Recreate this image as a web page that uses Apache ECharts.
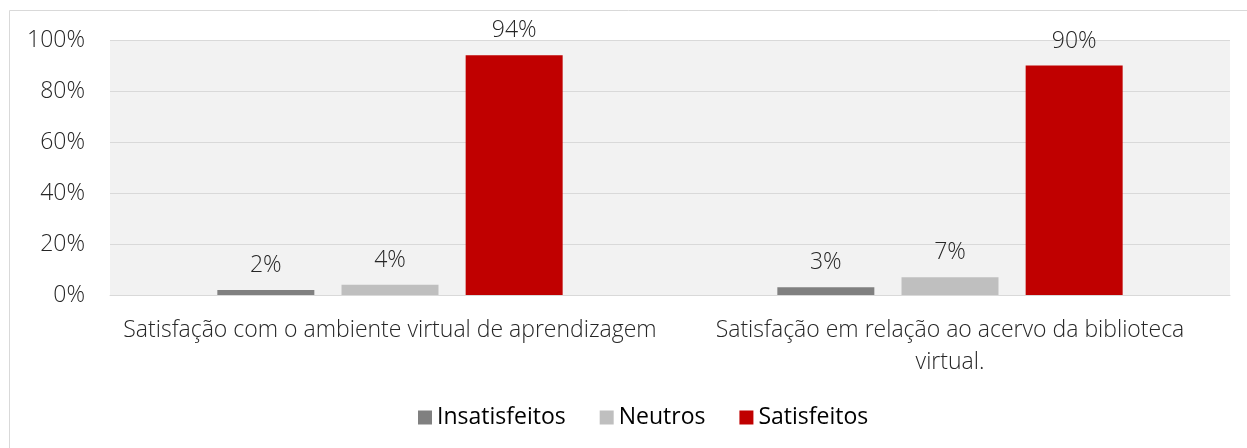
<!DOCTYPE html>
<html>
<head>
    <meta charset="utf-8">
    <title>Satisfação</title>
    <script src="https://cdn.jsdelivr.net/npm/echarts@6/dist/echarts.min.js"></script>
    <style>
        html, body { margin: 0; padding: 0; background: #fff; }
        #chart1 { width: 1247px; height: 448px; }
    </style>
</head>
<body>
<div id="chart1"></div>
<script type="text/javascript">
    // dados
    var categorias = ['Satisfação com o ambiente virtual de aprendizagem', 'Satisfação em relação ao acervo da biblioteca\nvirtual.'];
    var insatisfeitos = [0.02, 0.03];
    var neutros = [0.04, 0.07];
    var satisfeitos = [0.94, 0.90];

    var fonte = '"Open Sans", "Noto Sans", sans-serif';
    var corTexto = '#262626';

    function rotulo() {
        return {
            show: true,
            position: 'top',
            distance: 13,
            fontFamily: fonte,
            fontWeight: 300,
            fontSize: 23,
            color: corTexto,
            formatter: function (p) { return Math.round(p.value * 100) + '%'; }
        };
    }

    var myChart1 = echarts.init(document.getElementById('chart1'));
    myChart1.setOption({
        animation: false,
        graphic: [{
            type: 'rect',
            z: -10,
            shape: { x: 9.5, y: 10.5, width: 1400, height: 600 },
            style: { fill: 'none', stroke: '#d9d9d9', lineWidth: 1 }
        }],
        grid: {
            left: 110, right: 17, top: 40, bottom: 153,
            show: true, backgroundColor: '#f2f2f2', borderWidth: 0
        },
        legend: {
            bottom: 14,
            left: 413,
            itemWidth: 14,
            itemHeight: 14,
            itemGap: 34,
            icon: 'rect',
            textStyle: { fontFamily: fonte, fontSize: 23, color: '#000' },
            data: ['Insatisfeitos', 'Neutros', 'Satisfeitos']
        },
        xAxis: {
            type: 'category',
            data: categorias,
            axisTick: { show: false },
            axisLine: { lineStyle: { color: '#d9d9d9', width: 1 } },
            axisLabel: {
                interval: 0, margin: 19, lineHeight: 32,
                fontFamily: fonte, fontWeight: 300, fontSize: 23, color: corTexto
            }
        },
        yAxis: {
            type: 'value',
            min: 0, max: 1, interval: 0.2,
            axisLabel: {
                margin: 25, fontFamily: fonte, fontWeight: 300, fontSize: 23, color: corTexto,
                formatter: function (v) { return Math.round(v * 100) + '%'; }
            },
            splitLine: { lineStyle: { color: '#d9d9d9', width: 1 } },
            axisLine: { show: false },
            axisTick: { show: false }
        },
        series: [{
            name: 'Insatisfeitos', type: 'bar', data: insatisfeitos,
            barWidth: 97, barGap: '28%',
            itemStyle: { color: '#808080' }, label: rotulo()
        }, {
            name: 'Neutros', type: 'bar', data: neutros,
            barWidth: 97, barGap: '28%',
            itemStyle: { color: '#bfbfbf' }, label: rotulo()
        }, {
            name: 'Satisfeitos', type: 'bar', data: satisfeitos,
            barWidth: 97, barGap: '28%',
            itemStyle: { color: '#c00000' }, label: rotulo()
        }]
    });
</script>
</body>
</html>
